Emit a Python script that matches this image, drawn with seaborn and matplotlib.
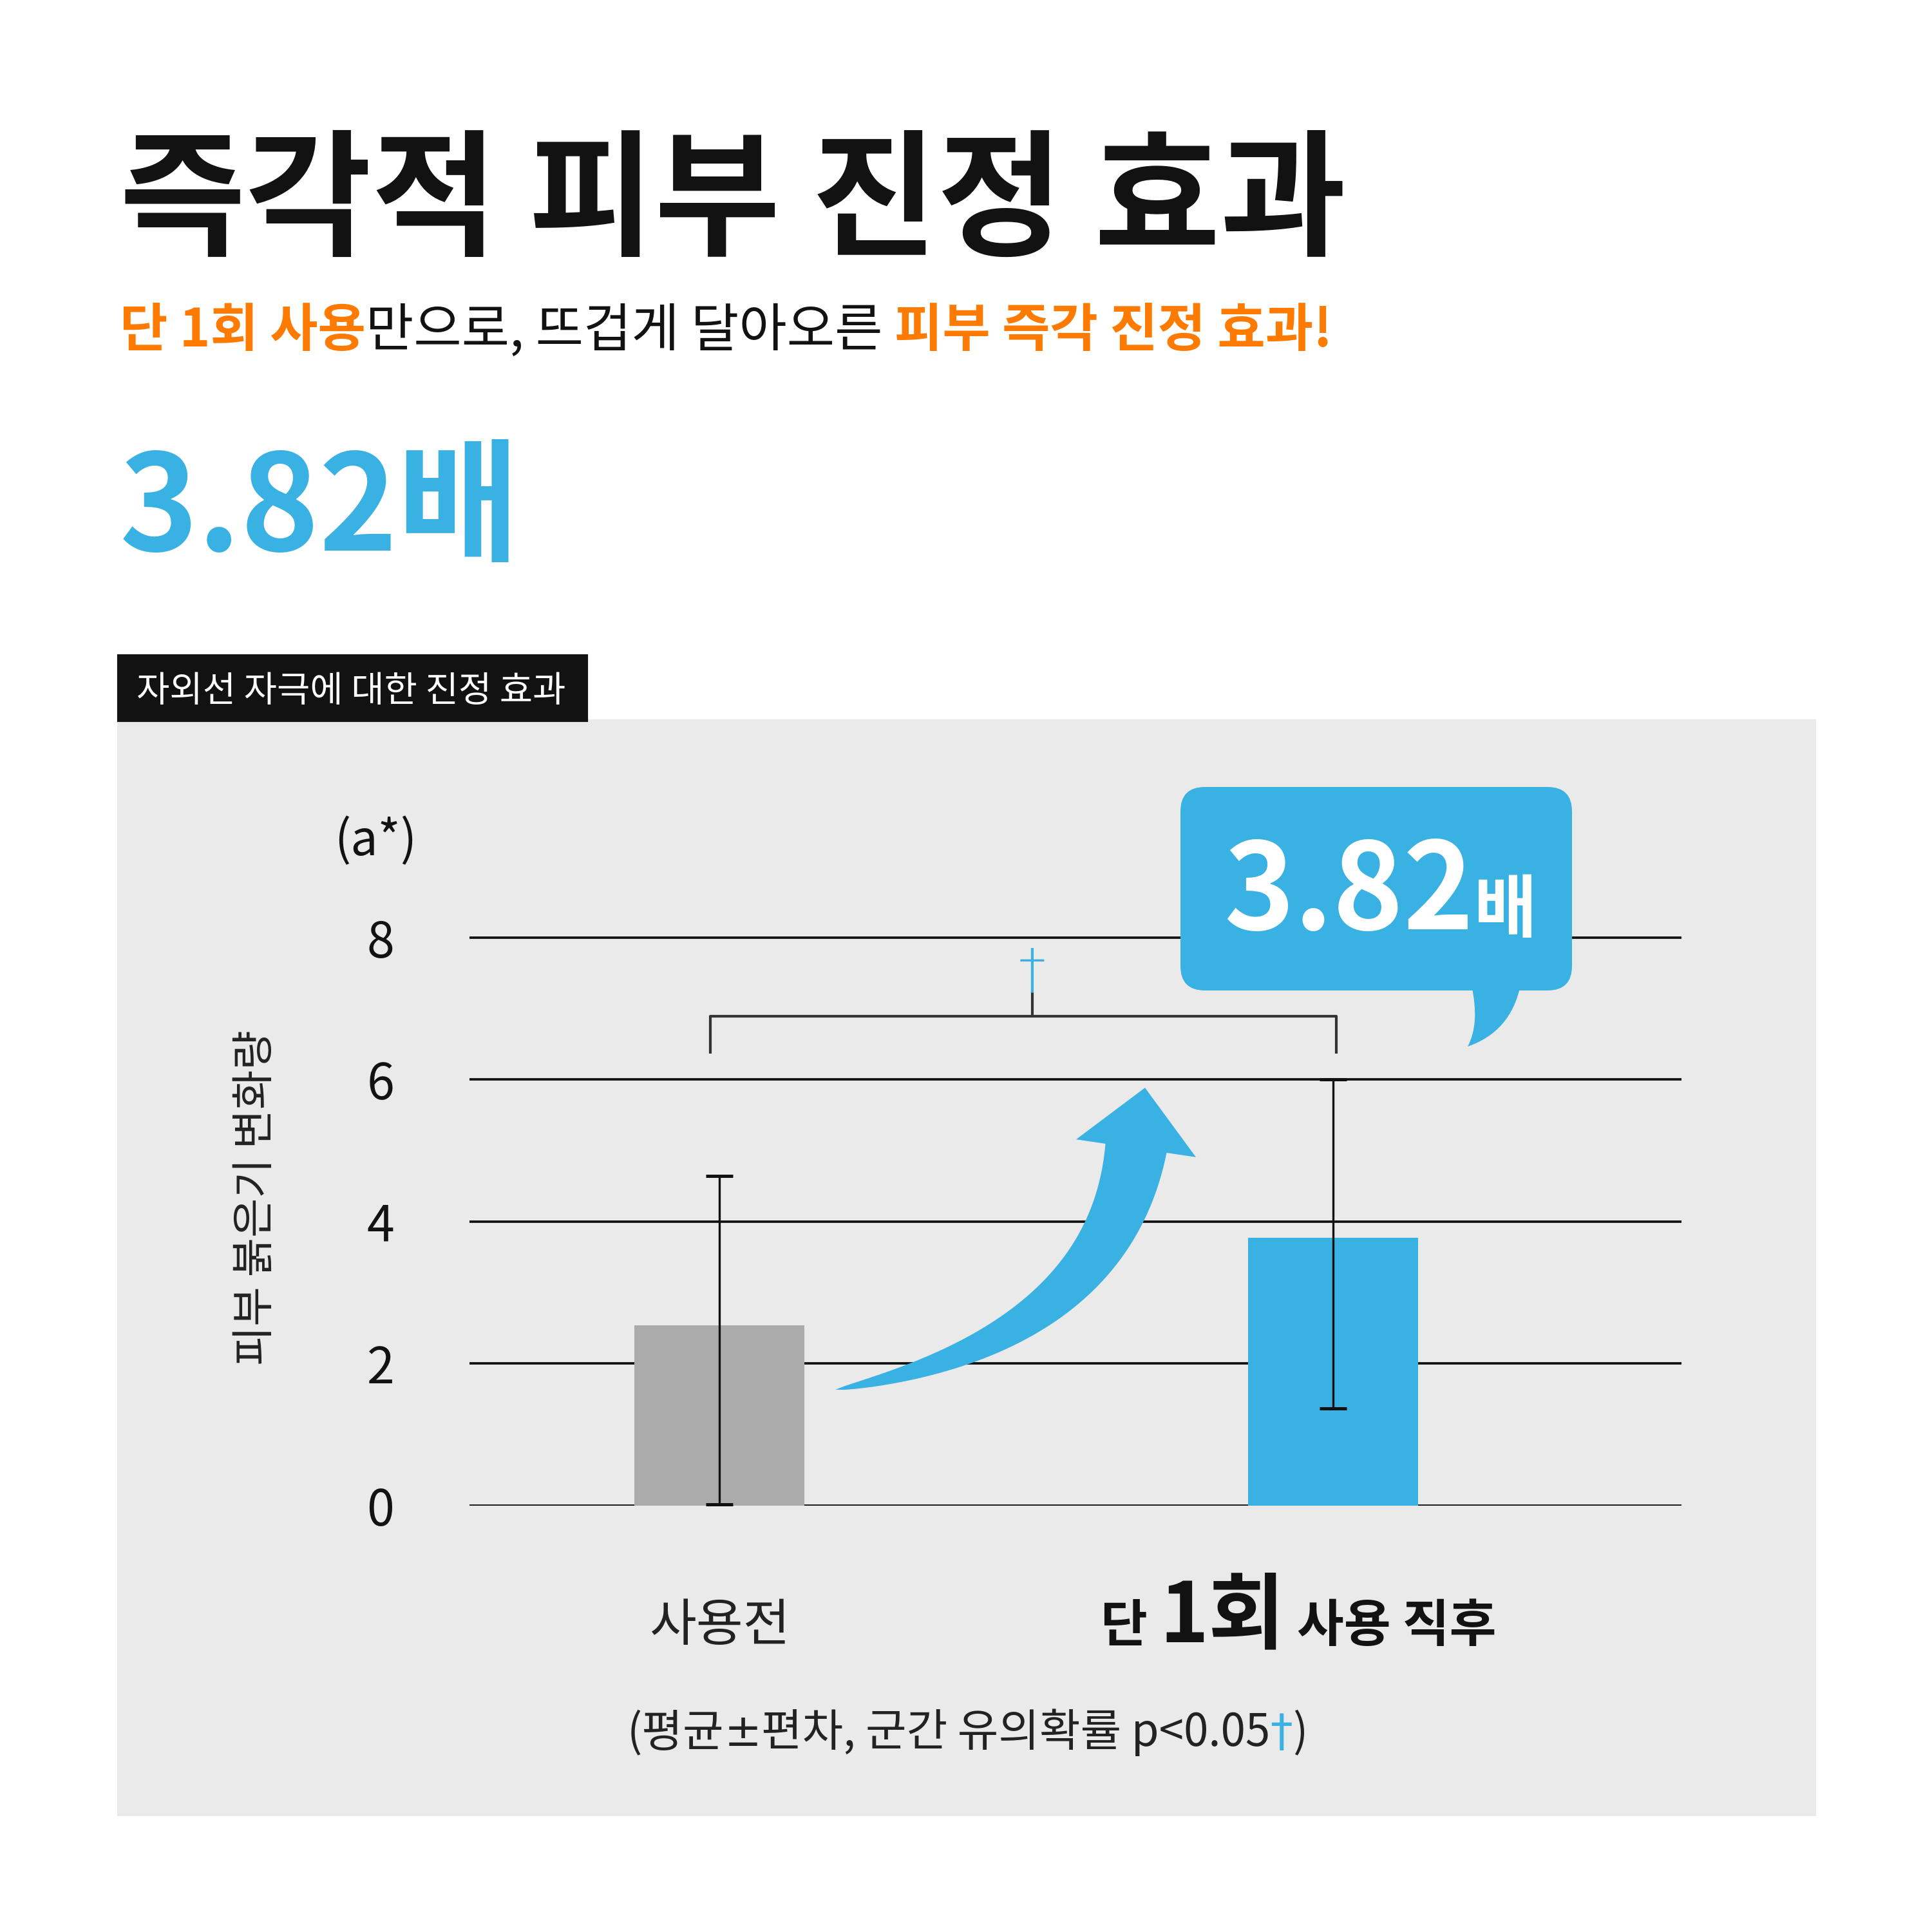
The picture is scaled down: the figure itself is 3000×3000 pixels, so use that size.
#====================================================================
# 자외선 자극에 대한 진정 효과 - 막대 그래프
#====================================================================

import numpy as np
import pandas as pd
import matplotlib
matplotlib.use("Agg")
import matplotlib.pyplot as plt
import seaborn as sns
from matplotlib.patches import Rectangle, FancyBboxPatch, Polygon, PathPatch
from matplotlib.path import Path
from matplotlib.transforms import Affine2D
from matplotlib.offsetbox import TextArea, HPacker, AnnotationBbox

#====================================================================
# DATOS
#====================================================================

categories = ["사용전", "단 1회 사용 직후"]
means = [2.54, 3.77]
err_low = [0.02, 1.37]
err_high = [4.64, 6.00]
y_ticks = [0, 2, 4, 6, 8]

BLUE = "#3AB1E3"
ORANGE = "#FF7A00"
GRAY_BAR = "#ABABAB"
PANEL = "#EAEAEA"
INK = "#121212"

df = pd.DataFrame({"grupo": categories, "valor": means})

#====================================================================
# FIGURA
#====================================================================

sns.set_theme(style="white")
plt.rcParams["font.family"] = ["Noto Sans CJK KR", "DejaVu Sans"]

W = 3000
fig = plt.figure(figsize=(10, 10), dpi=300)
fig.patch.set_facecolor("white")

# pixel coords (origin top-left) -> figure
pix = Affine2D().scale(1 / W, -1 / W).translate(0, 1) + fig.transFigure


def fx(x):
    return x / W


def fy(y):
    return 1 - y / W


ax = fig.add_axes([fx(729), fy(2338), fx(2611) - fx(729), fy(1200) - fy(2338)])
ax.set_facecolor("none")
ax.set_zorder(2)

# panel gris
fig.patches.append(Rectangle((fx(184), fy(2818)), fx(2818) - fx(184), fy(1119) - fy(2818),
                             transform=fig.transFigure, color=PANEL, zorder=-2))
# etiqueta negra
fig.patches.append(Rectangle((fx(184), fy(1119)), fx(911) - fx(184), fy(1018) - fy(1119),
                             transform=fig.transFigure, color=INK, zorder=-2))
fig.text(fx(212), fy(1090), "자외선 자극에 대한 진정 효과", color="white",
         fontsize=13.4, ha="left", va="baseline")

# titulo
fig.text(fx(186), fy(380), "즉각적 피부 진정 효과", color=INK, fontsize=51,
         fontweight="black", ha="left", va="baseline")

# subtitulo (multicolor)
t1 = fig.text(fx(186), fy(538), "단 1회 사용", color=ORANGE, fontsize=19.4,
              fontweight="bold", ha="left", va="baseline")
t2 = ax.annotate("만으로, 뜨겁게 달아오른 ", xy=(1, 0), xycoords=t1, color=INK,
                 fontsize=19.4, ha="left", va="bottom", annotation_clip=False)
t3 = ax.annotate("피부 즉각 진정 효과!", xy=(1, 0), xycoords=t2, color=ORANGE,
                 fontsize=19.4, fontweight="bold", ha="left", va="bottom",
                 annotation_clip=False)

# numero grande
fig.text(fx(186), fy(855), "3.82배", color=BLUE, fontsize=49.5,
         fontweight="black", ha="left", va="baseline")

#====================================================================
# GRAFICO
#====================================================================

sns.barplot(data=df, x="grupo", y="valor", hue="grupo",
            palette=[GRAY_BAR, BLUE], width=0.277, errorbar=None,
            legend=False, saturation=1, linewidth=0, ax=ax, zorder=2)

m = np.array(means)
yerr = [m - np.array(err_low), np.array(err_high) - m]
ax.errorbar(x=np.arange(len(categories)), y=m, yerr=yerr, fmt="none",
            ecolor="#111111", elinewidth=0.8, capsize=5, capthick=1.2, zorder=5)

ax.set_xlim(-0.407, 1.568)
ax.set_ylim(0, 10.32)
ax.set_yticks(y_ticks)
ax.set_yticklabels([str(v) for v in y_ticks])
ax.yaxis.grid(True, color="#111111", linewidth=0.9)
ax.xaxis.grid(False)
ax.set_axisbelow(True)
sns.despine(ax=ax, left=True, bottom=True)
ax.tick_params(axis="y", length=0, pad=28, labelsize=18.5, labelcolor=INK)
ax.tick_params(axis="x", length=0)
ax.set_xticklabels([])
ax.set_xlabel("")
ax.set_ylabel("피부 붉은기 변화량", fontsize=16, color="#222222", va="center")
ax.yaxis.set_label_coords(-0.176, 0.42)

fig.text(fx(583), fy(1307), "(a*)", fontsize=18, color=INK, ha="center", va="center")

# bracket de significancia
bx0, bx1, b_top, b_leg, b_mid = -0.014, 1.006, 6.89, 6.37, 0.51
ax.plot([bx0, bx0, bx1, bx1], [b_leg, b_top, b_top, b_leg], color="#333333",
        lw=1.0, solid_capstyle="butt", zorder=3, clip_on=False)
ax.plot([b_mid, b_mid], [b_top, 7.24], color="#333333", lw=1.0, zorder=3)
ax.text(b_mid, 7.52, "†", color=BLUE, fontsize=20, ha="center",
        va="center", family="DejaVu Sans", fontweight="light")

#====================================================================
# FLECHA CURVA
#====================================================================

p0 = np.array([1297.0, 2158.0])
p1 = np.array([1720.0, 2080.0])
p2 = np.array([1764.0, 1783.0])
ts = np.linspace(0, 1, 60)
left_pts, right_pts = [], []
for t in ts:
    c = (1 - t) ** 2 * p0 + 2 * (1 - t) * t * p1 + t ** 2 * p2
    d = 2 * (1 - t) * (p1 - p0) + 2 * t * (p2 - p1)
    d = d / np.linalg.norm(d)
    n = np.array([-d[1], d[0]])
    w = 96 * t ** 0.7 / 2
    left_pts.append(c + w * n)
    right_pts.append(c - w * n)
d_end = (p2 - p1) / np.linalg.norm(p2 - p1)
n_end = np.array([-d_end[1], d_end[0]])
head = [p2 + 94 * n_end, p2 + 95 * d_end, p2 - 94 * n_end]
arrow_pts = left_pts + head + right_pts[::-1]
ax.add_patch(Polygon(arrow_pts, closed=True, transform=pix, clip_on=False,
                     color=BLUE, lw=0, zorder=4))

#====================================================================
# BURBUJA 3.82배
#====================================================================

bub = Affine2D().scale(1 / W) + fig.transFigure
ax.add_patch(FancyBboxPatch((1833, W - 1538), 608, 316,
                            boxstyle="round,pad=0,rounding_size=38", clip_on=False,
                            transform=bub, color=BLUE, lw=0, zorder=6))
tail = Path([(2285, W - 1530), (2298, W - 1590), (2279, W - 1625),
             (2346, W - 1602), (2361, W - 1530), (2285, W - 1530)],
            [Path.MOVETO, Path.CURVE3, Path.CURVE3, Path.CURVE3, Path.CURVE3,
             Path.CLOSEPOLY])
ax.add_patch(PathPatch(tail, transform=bub, color=BLUE, lw=0, zorder=6, clip_on=False))

ax.text(1900, W - 1443, "3.82", color="white", fontsize=44.5, transform=bub,
        fontweight="black", ha="left", va="baseline", zorder=7)
ax.text(2289, W - 1446, "배", color="white", fontsize=25.5, transform=bub,
        fontweight="bold", ha="left", va="baseline", zorder=7)

#====================================================================
# ETIQUETAS X Y NOTA
#====================================================================

ax.annotate(categories[0], xy=(0, W - 2548), xycoords=("data", "figure pixels"),
            fontsize=19, color="#222222", ha="center", va="baseline",
            annotation_clip=False)

lab = HPacker(children=[
    TextArea("단", textprops=dict(fontsize=19, fontweight="bold", color=INK)),
    TextArea("1회", textprops=dict(fontsize=31, fontweight="black", color=INK)),
    TextArea("사용 직후", textprops=dict(fontsize=19, fontweight="bold", color=INK)),
], align="baseline", pad=0, sep=4.5)
fig.add_artist(AnnotationBbox(lab, (2016, 2512), xycoords=pix, frameon=False,
                              box_alignment=(0.5, 0.5), pad=0,
                              annotation_clip=False))

note_grey = dict(fontsize=16.6, color="#222222")
note = HPacker(children=[
    TextArea("(평균", textprops=note_grey),
    TextArea("±", textprops=dict(fontsize=16.6, color="#222222", family="DejaVu Sans")),
    TextArea("편차, 군간 유의확률 p<0.05", textprops=note_grey),
    TextArea("†", textprops=dict(fontsize=16.6, color=BLUE, family="DejaVu Sans")),
    TextArea(")", textprops=note_grey),
], align="baseline", pad=0, sep=0)
fig.add_artist(AnnotationBbox(note, (1502, 2690), xycoords=pix, frameon=False,
                              box_alignment=(0.5, 0.5), pad=0,
                              annotation_clip=False))

plt.savefig("out.png", dpi=300, facecolor="white")
